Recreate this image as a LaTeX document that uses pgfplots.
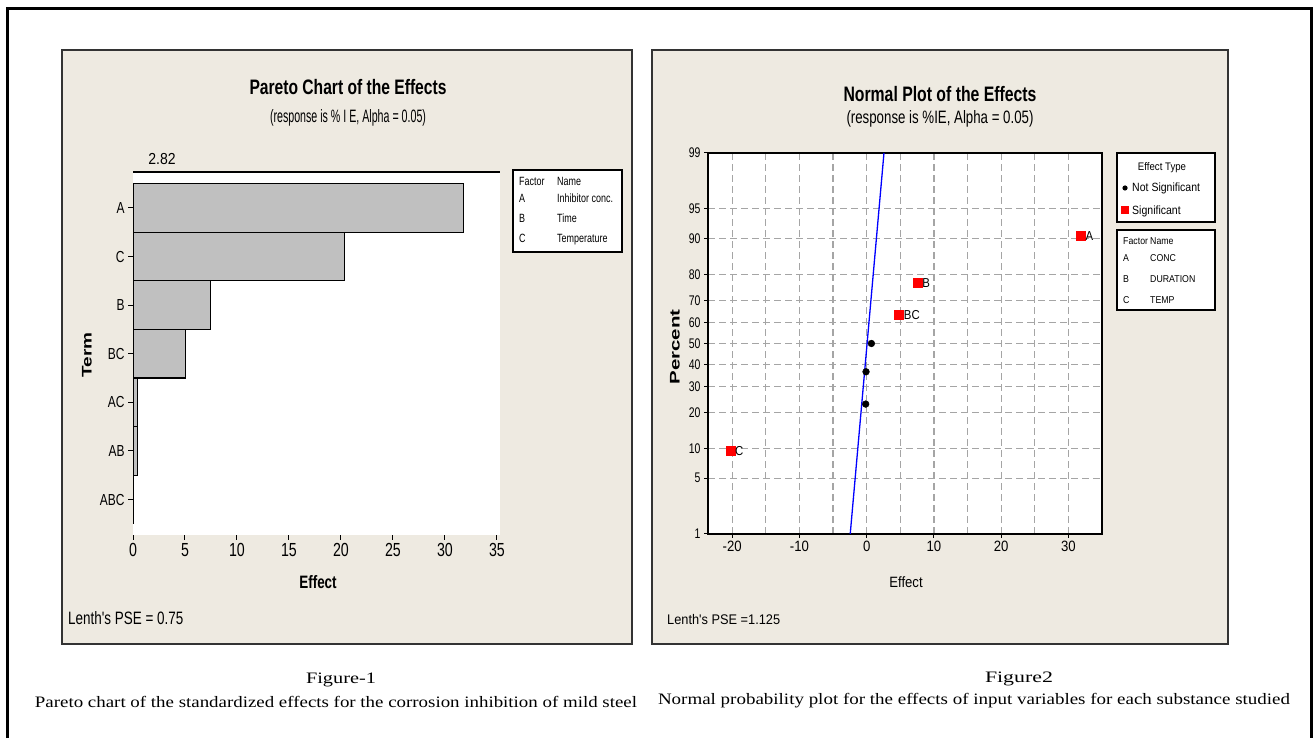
\documentclass[border=0pt]{standalone}
\usepackage{graphicx}
\usepackage{pgfplots}
\pgfplotsset{compat=1.18}
\usepackage{fontspec}
\setmainfont{Liberation Serif}
\newfontfamily\mt[FakeStretch=0.75]{Liberation Sans}
\newfontfamily\mtr[FakeStretch=0.88]{Liberation Sans}
\definecolor{panel}{RGB}{238,234,225}
\definecolor{bargray}{RGB}{192,192,192}
\definecolor{gridgray}{RGB}{165,165,165}
\newcommand\fs[1]{\fontsize{#1}{#1}\selectfont}
\newcommand\fitw[2]{\resizebox{#1bp}{\height}{#2}}
\begin{document}
\begin{tikzpicture}[x=1bp,y=1bp]
\useasboundingbox (0,0) rectangle (1314,738);
\fill[white] (0,0) rectangle (1314,738);
\draw[line width=3bp] (7.5,0) -- (7.5,729.3) -- (1311.5,729.3) -- (1311.5,0);
% panels
\draw[fill=panel, draw=black!80, line width=2bp] (62,94) rectangle (632,688);
\draw[fill=panel, draw=black!80, line width=2bp] (652,94) rectangle (1228,688);

% ---------------- Pareto chart ----------------
\begin{axis}[
  at={(133bp,203bp)}, anchor=south west,
  scale only axis, width=367bp, height=363bp,
  xbar, bar width=1, bar shift=0pt,
  xmin=0, xmax=35.3,
  ymin=-0.73, ymax=6.74,
  ytick={0,1,2,3,4,5,6}, yticklabels={ABC,AB,AC,BC,B,C,A},
  xtick={0,5,10,15,20,25,30,35}, xticklabels={0,5,10,15,20,25,30,35},
  axis line style={draw=none},
  axis background/.style={fill=white},
  tick align=outside, xtick pos=left, ytick pos=left,
  major tick length=5bp,
  tick style={black, line width=1bp},
  xticklabel style={font=\mt\fs{19}},
  yticklabel style={font=\mt\fs{16}},
]
\addplot[fill=bargray, draw=black, line width=1.2bp] coordinates {
  (31.8,6) (20.35,5) (7.44,4) (5.04,3) (0.45,2) (0.45,1) (0,0)};
\draw[black, line width=1.3bp] (axis description cs:0,1) -- (axis description cs:1,1);
\end{axis}

\node[anchor=base, inner sep=0] at (348,643) {\mt\fs{21}\bfseries\fitw{197}{Pareto Chart of the Effects}};
\node[anchor=base, inner sep=0] at (348,615) {\mt\fs{18}\fitw{156}{(response is \% I E, Alpha = 0.05)}};
\node[anchor=base, inner sep=0] at (162,573) {\mtr\fs{16}2.82};
\node[anchor=base, inner sep=0] at (318,149) {\mt\fs{18}\bfseries Effect};
\node[rotate=90, inner sep=0] at (87,383) {\mt\fs{14}\bfseries\fitw{45}{Term}};
\node[anchor=base west, inner sep=0] at (68,113) {\mt\fs{18}Lenth's PSE = 0.75};
% legend box (left)
\draw[fill=white, line width=1.5bp] (513,486) rectangle (622,568);
\begin{scope}[every node/.style={anchor=base west, inner sep=0, font=\mt\fs{12}}]
\node at (519,552) {Factor}; \node at (557,552) {Name};
\node at (519,535) {A}; \node at (557,535) {Inhibitor conc.};
\node at (519,515) {B}; \node at (557,515) {Time};
\node at (519,495) {C}; \node at (557,495) {Temperature};
\end{scope}

% ---------------- Normal plot ----------------
\begin{axis}[
  at={(708bp,204bp)}, anchor=south west,
  scale only axis, width=394bp, height=381bp,
  xmin=-23.6, xmax=35, ymin=-2.3263, ymax=2.3263,
  axis background/.style={fill=white},
  axis line style={black, line width=1.5bp},
  xtick={-20,-10,0,10,20,30}, xticklabels={-20,-10,0,10,20,30},
  minor xtick={-15,-5,5,15,25},
  ytick={-2.3263,-1.6449,-1.2816,-0.8416,-0.5244,-0.2533,0,0.2533,0.5244,0.8416,1.2816,1.6449,2.3263},
  yticklabels={1,5,10,20,30,40,50,60,70,80,90,95,99},
  xmajorgrids, xminorgrids, ymajorgrids,
  grid style={dash pattern=on 7bp off 4bp, gridgray, line width=1.2bp},
  minor grid style={dash pattern=on 7bp off 4bp, gridgray, line width=1.2bp},
  tick align=outside, xtick pos=left, ytick pos=left,
  major tick length=4bp, minor tick length=0pt,
  tick style={black, line width=1bp},
  xticklabel style={font=\mtr\fs{15}},
  yticklabel style={font=\mt\fs{14}},
]
\addplot[blue, line width=1.3bp, no marks] coordinates {(-2.45,-2.3263) (2.57,2.3263)};
\addplot[only marks, mark=*, mark size=3.4bp, black] coordinates {
  (-0.15,-0.7399) (-0.1,-0.3455) (0.7,0)};
\addplot[only marks, mark=square*, mark size=4.5bp, red,
  nodes near coords, point meta=explicit symbolic,
  every node near coord/.append style={anchor=west, font=\mtr\fs{13}, xshift=1.5bp, text=black}]
  coordinates {(-20.3,-1.3131) [C] (4.8,0.3455) [BC] (7.55,0.7399) [B] (31.8,1.3131) [A]};
\end{axis}

\node[anchor=base, inner sep=0] at (940,636) {\mt\fs{21}\bfseries\fitw{193}{Normal Plot of the Effects}};
\node[anchor=base, inner sep=0] at (940,614) {\mt\fs{18}\fitw{187}{(response is \%IE, Alpha = 0.05)}};
\node[anchor=base, inner sep=0] at (906,150) {\mtr\fs{15}Effect};
\node[rotate=90, inner sep=0] at (675,391) {\mt\fs{14}\bfseries\fitw{75}{Percent}};
\node[anchor=base west, inner sep=0] at (667,113) {\mtr\fs{14}\fitw{113}{Lenth's PSE =1.125}};
% legend boxes (right)
\draw[fill=white, line width=1.5bp] (1117,516) rectangle (1215,585);
\node[anchor=base, inner sep=0] at (1162,567) {\mtr\fs{11}Effect Type};
\fill[black] (1125,550) circle (2.6bp);
\node[anchor=base west, inner sep=0] at (1132,546) {\mtr\fs{12}Not Significant};
\fill[red] (1121,523.5) rectangle (1129,531.5);
\node[anchor=base west, inner sep=0] at (1132,523) {\mtr\fs{12}Significant};
\draw[fill=white, line width=1.5bp] (1117,428) rectangle (1215,508);
\begin{scope}[every node/.style={anchor=base west, inner sep=0, font=\mtr\fs{10}}]
\node at (1123,493) {Factor}; \node at (1150,493) {Name};
\node at (1123,476) {A}; \node at (1150,476) {CONC};
\node at (1123,455) {B}; \node at (1150,455) {DURATION};
\node at (1123,434) {C}; \node at (1150,434) {TEMP};
\end{scope}

% captions
\node[anchor=base, inner sep=0] at (341,55) {\fs{16}\fitw{70}{Figure-1}};
\node[anchor=base, inner sep=0] at (336,31) {\fs{16}\fitw{602}{Pareto chart of the standardized effects for the corrosion inhibition of mild steel}};
\node[anchor=base, inner sep=0] at (1019,56) {\fs{16}\fitw{68}{Figure2}};
\node[anchor=base, inner sep=0] at (974,34) {\fs{16}\fitw{632}{Normal probability plot for the effects of input variables for each substance studied}};
\end{tikzpicture}
\end{document}
